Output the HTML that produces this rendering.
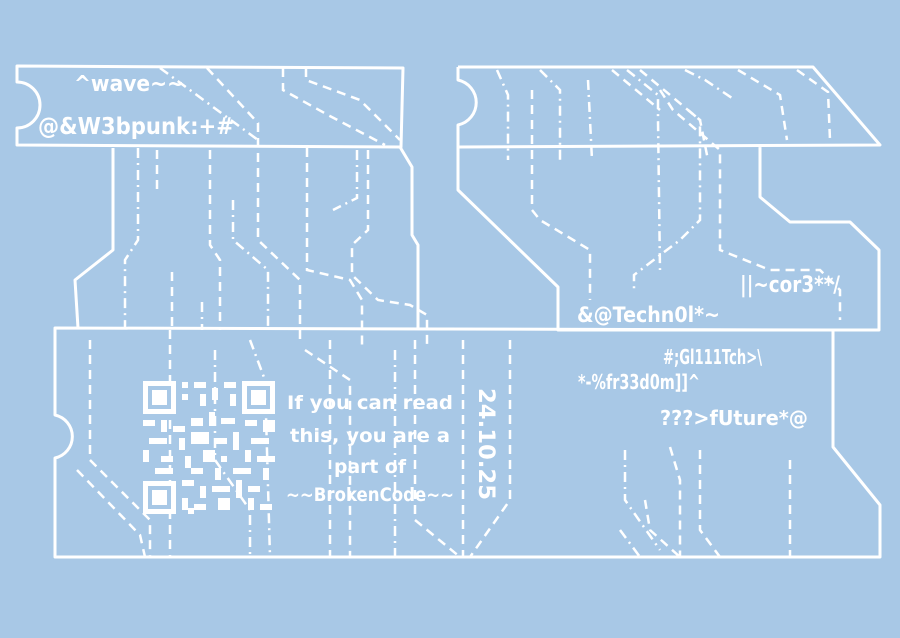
<!DOCTYPE html>
<html><head><meta charset="utf-8"><style>
html,body{margin:0;padding:0;background:#a8c8e6;}
svg{display:block}
text{font-family:"DejaVu Sans","Liberation Sans",sans-serif;fill:#fff;font-weight:bold}
</style></head><body>
<svg width="900" height="638" viewBox="0 0 900 638" xmlns="http://www.w3.org/2000/svg">
<rect width="900" height="638" fill="#a8c8e6"/>
<g fill="none" stroke="#fff" stroke-width="3" stroke-linejoin="round">
<path d="M17,66 L403,68 L401,147 L17,145 L17,128 A23,23 0 0 0 17,82 Z"/>
<path d="M113,148 L113,250 L75,280 L78,328"/>
<path d="M400,147 L412,167 L412,235 L418,245 L418,328"/>
<path d="M458,67 L813,67 L880,145 L458,147 M458,67 L458,80 A23,23 0 0 1 458,125 L458,190 L558,287 L558,330 L879,330 L879,250 L850,222 L790,222 L760,197 L760,147"/>
<path d="M55,328 L833,330 L833,447 L880,505 L880,557 L55,557 L55,458 A22,22 0 0 0 55,415 Z"/>
</g>
<g fill="none" stroke="#fff" stroke-width="2.5" stroke-dasharray="9,6">
<path d="M207,68 L258,123 L258,148 L258,240 L300,280 L300,340"/>
<path d="M157,150 L157,190"/>
<path d="M210,150 L210,245 L220,260 L220,330"/>
<path d="M307,148 L307,270 L350,280 L362,300 L362,345"/>
<path d="M368,150 L368,230 L352,245 L352,275 L378,300 L410,305 L427,315 L427,345"/>
<path d="M172,272 L172,330"/>
<path d="M283,68 L283,90 L328,115 L385,145"/>
<path d="M306,68 L306,80 L360,100 L400,140"/>
<path d="M532,90 L532,150 L532,210 L540,220 L590,250 L590,300"/>
<path d="M660,90 L673,110 L720,150 L720,250 L770,270 L820,270 L840,290 L840,320"/>
<path d="M612,70 L660,110"/>
<path d="M640,70 L700,120 L708,160"/>
<path d="M738,70 L780,95 L787,140"/>
<path d="M797,70 L828,92 L830,140"/>
<path d="M90,340 L90,460 L150,520 L150,557"/>
<path d="M77,470 L140,535 L145,557"/>
<path d="M170,330 L170,557"/>
<path d="M330,340 L330,557"/>
<path d="M305,350 L350,380 L350,557"/>
<path d="M415,340 L415,520 L460,557"/>
<path d="M463,340 L463,557"/>
<path d="M510,340 L510,500 L470,557"/>
<path d="M645,500 L650,530 L680,557"/>
<path d="M700,450 L700,530 L720,557"/>
<path d="M790,460 L790,557"/>
<path d="M670,447 L680,480 L680,557"/>
</g>
<g fill="none" stroke="#fff" stroke-width="2.5" stroke-dasharray="10,5,2,5">
<path d="M160,68 L258,140"/>
<path d="M138,148 L138,240 L125,260 L125,328"/>
<path d="M202,302 L202,330"/>
<path d="M233,200 L233,240 L268,270 L268,328"/>
<path d="M357,150 L357,198 L333,210"/>
<path d="M497,70 L508,95 L508,160"/>
<path d="M540,70 L560,90 L560,160"/>
<path d="M588,80 L592,160"/>
<path d="M627,70 L658,95 L658,120 L660,270"/>
<path d="M688,110 L700,120 L700,220 L680,240 L634,275 L634,290"/>
<path d="M685,70 L705,80 L735,100"/>
<path d="M215,350 L215,460 L250,510 L250,557"/>
<path d="M250,340 L250,340 L265,380 L270,557"/>
<path d="M395,350 L395,557"/>
<path d="M620,530 L620,530 L640,557"/>
<path d="M625,450 L625,500 L660,550"/>
</g>
<g fill="#fff">
<rect x="143" y="381" width="33" height="33"/><rect x="148" y="386" width="23" height="23" fill="#a8c8e6"/><rect x="152" y="390" width="15" height="15"/>
<rect x="242" y="381" width="33" height="33"/><rect x="247" y="386" width="23" height="23" fill="#a8c8e6"/><rect x="251" y="390" width="15" height="15"/>
<rect x="143" y="481" width="33" height="33"/><rect x="148" y="486" width="23" height="23" fill="#a8c8e6"/><rect x="152" y="490" width="15" height="15"/>
<path d="M182,382h6v6h-6zM194,382h12v6h-12zM212,388h6v12h-6zM224,382h12v6h-12zM182,394h6v6h-6zM200,394h6v12h-6zM230,394h6v12h-6zM143,420h12v6h-12zM161,420h6v12h-6zM173,426h12v6h-12zM191,418h12v8h-12zM209,412h6v14h-6zM221,418h14v6h-14zM245,420h12v6h-12zM263,420h12v12h-12zM149,438h18v6h-18zM179,438h6v12h-6zM191,432h18v12h-18zM215,438h12v6h-12zM233,432h6v18h-6zM251,438h18v6h-18zM143,450h6v12h-6zM161,456h12v6h-12zM185,456h6v12h-6zM203,450h12v12h-12zM221,456h6v6h-6zM245,450h6v12h-6zM257,456h18v6h-18zM155,468h18v6h-18zM191,468h12v6h-12zM215,468h6v12h-6zM233,468h18v6h-18zM263,468h6v12h-6zM182,480h12v6h-12zM200,486h6v12h-6zM212,486h18v6h-18zM236,480h6v18h-6zM248,486h12v6h-12zM182,498h6v12h-6zM194,504h12v6h-12zM218,498h12v12h-12zM248,498h6v12h-6zM260,504h12v6h-12zM188,508h6v6h-6z"/>
</g>
<text x="74" y="91" font-size="22" textLength="110" lengthAdjust="spacingAndGlyphs">^wave~~</text>
<text x="38" y="134" font-size="23" textLength="196" lengthAdjust="spacingAndGlyphs">@&amp;W3bpunk:+#</text>
<text x="740" y="292" font-size="22" textLength="100" lengthAdjust="spacingAndGlyphs">||~cor3**/</text>
<text x="577" y="322" font-size="21" textLength="143" lengthAdjust="spacingAndGlyphs">&amp;@Techn0l*~</text>
<text x="663" y="364" font-size="20" textLength="99" lengthAdjust="spacingAndGlyphs">#;Gl111Tch&gt;\</text>
<text x="578" y="389" font-size="20" textLength="122" lengthAdjust="spacingAndGlyphs">*-%fr33d0m]]^</text>
<text x="660" y="425" font-size="20" textLength="148" lengthAdjust="spacingAndGlyphs">???&gt;fUture*@</text>
<g font-size="19" text-anchor="middle">
<text x="370" y="409" textLength="166" lengthAdjust="spacingAndGlyphs">If you can read</text>
<text x="370" y="442" textLength="160" lengthAdjust="spacingAndGlyphs">this, you are a</text>
<text x="370" y="473" textLength="72" lengthAdjust="spacingAndGlyphs">part of</text>
<text x="370" y="501" textLength="168" lengthAdjust="spacingAndGlyphs">~~BrokenCode~~</text>
</g>
<text font-size="22" transform="translate(479,388) rotate(90)" textLength="112" lengthAdjust="spacingAndGlyphs">24.10.25</text>
</svg>
</body></html>
